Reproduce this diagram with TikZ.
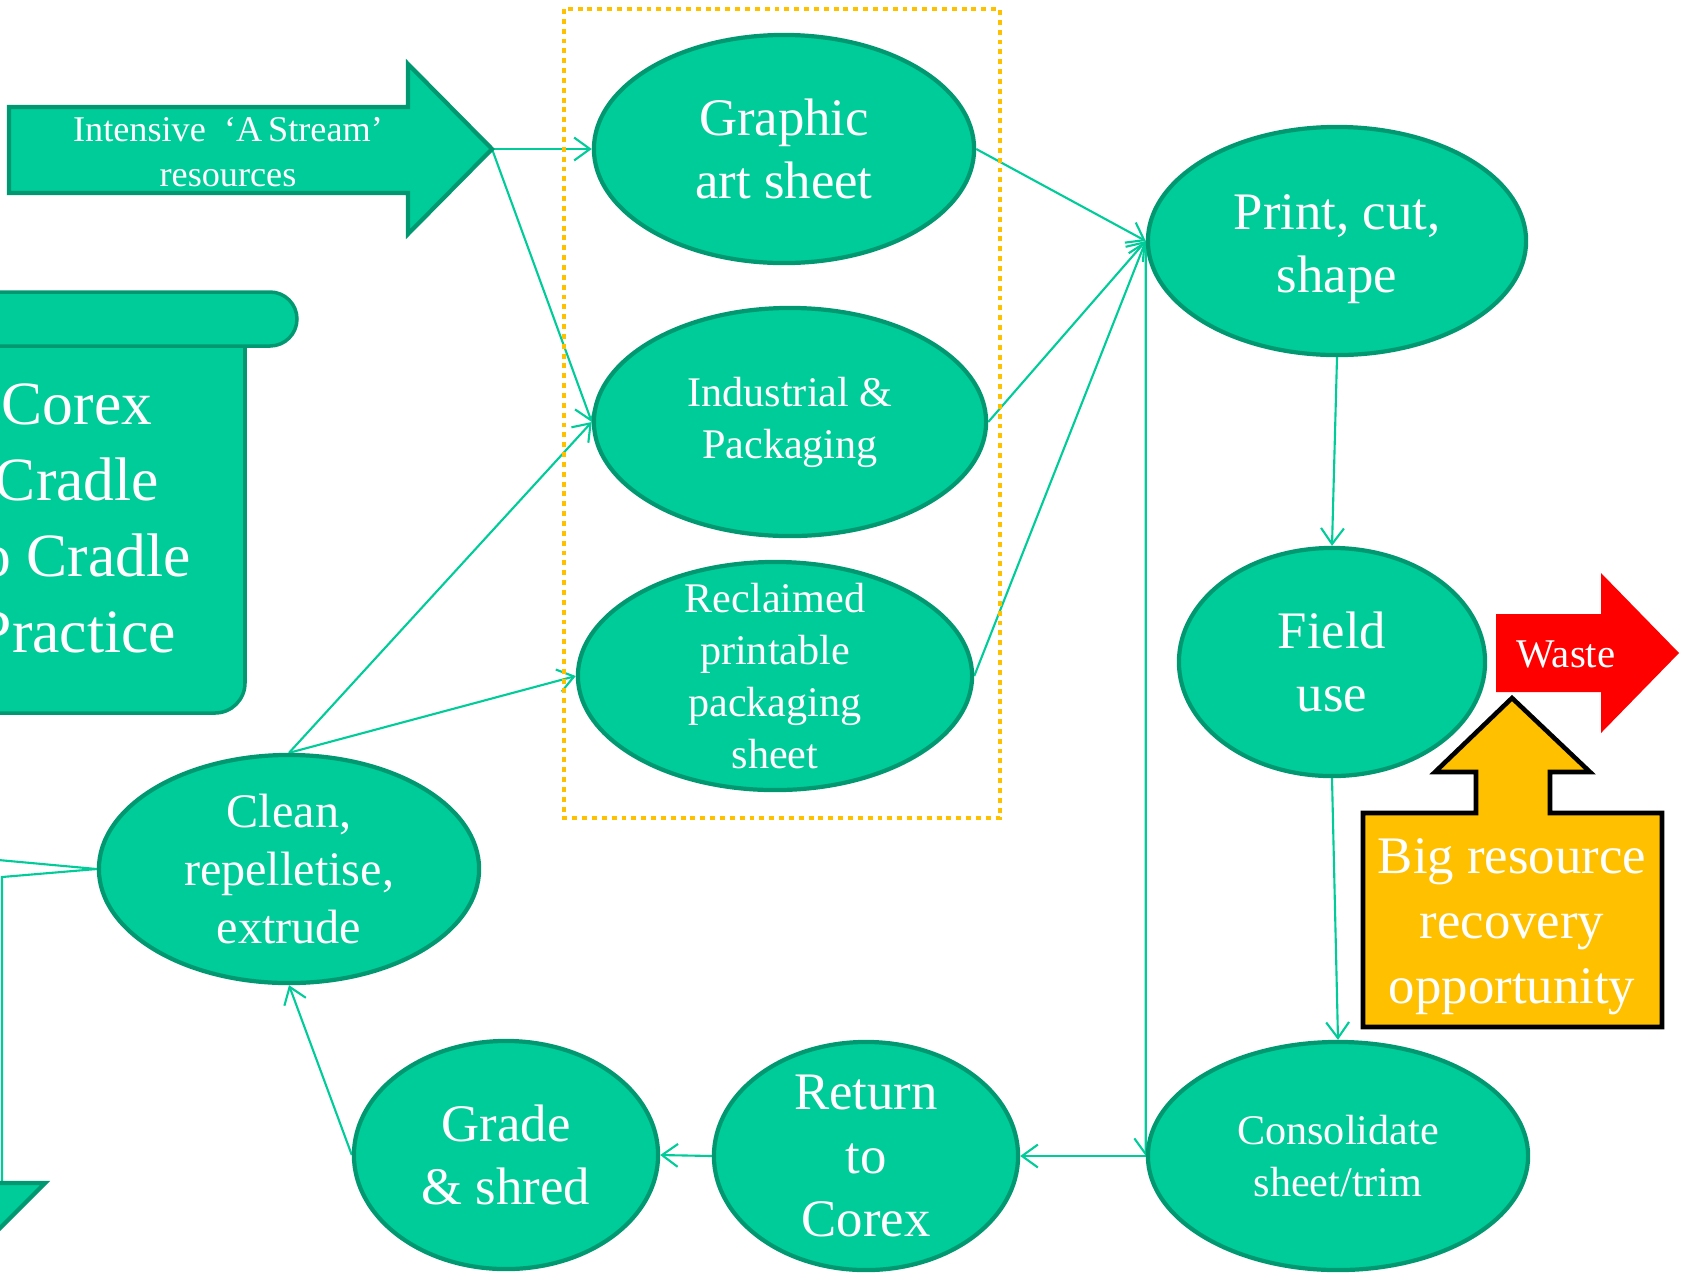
\documentclass[tikz,border=0pt]{standalone}
\usepackage{fontspec}
\setmainfont{Liberation Serif}
\usetikzlibrary{shapes,arrows.meta}
\pgfdeclarelayer{background}
\pgfsetlayers{background,main}
\definecolor{corexgreen}{HTML}{00CC99}
\definecolor{corexedge}{HTML}{009870}
\definecolor{amber}{HTML}{FFC000}
\tikzset{
stage/.style={ellipse, draw=corexedge, line width=1.2pt, fill=corexgreen, text=white, align=center, inner sep=0pt, minimum height=2.28cm, font=\fontsize{15}{18}\selectfont},
smallstage/.style={stage, font=\fontsize{12}{14.8}\selectfont},
flow/.style={draw=corexgreen, line width=0.6pt, -{Straight Barb[length=4.5pt,width=6.5pt]}},
link/.style={draw=corexgreen, line width=0.6pt},
}

\begin{document}
\begin{tikzpicture}[x=0.01cm, y=-0.01cm]
\useasboundingbox (0,0) rectangle (1685,1272);
\clip (0,0) rectangle (1685,1272);

\draw[draw=corexedge, fill=corexgreen, line width=1pt] (-80,346) -- (245,346) -- (245,600) [rounded corners=0.3cm] -- (245,713) -- (-80,713) -- cycle;
\draw[draw=corexedge, fill=corexgreen, line width=1pt, rounded corners=0.27cm] (-80,292) rectangle (297,346);
\node[text=white, align=center, font=\fontsize{17.5}{21.6}\selectfont] (title) at (77,518) {Corex\\Cradle\\to Cradle\\Practice};

\draw[amber, line width=1.3pt, dash pattern=on 1.4pt off 1.4pt] (564,9) rectangle (1000,818);

\draw[draw=corexedge, fill=corexgreen, line width=1.2pt] (9,107) -- (408,107) -- (408,64) -- (492,149) -- (408,234) -- (408,193) -- (9,193) -- cycle;
\coordinate (stream) at (492,149);
\node[text=white, align=center, font=\fontsize{10.3}{12.8}\selectfont] (streamtxt) at (228,152) {Intensive\enspace‘A\,Stream’\\resources};

\draw[draw=corexedge, fill=corexgreen, line width=1.2pt] (-120,1000) -- (-10,1000) -- (-10,1183) -- (45,1183) -- (-65,1293) -- (-175,1183) -- (-120,1183) -- cycle;

\node[stage, minimum width=3.8cm] (gas) at (784,149) {Graphic\\art sheet};
\node[smallstage, minimum width=3.92cm] (ind) at (790,422) {Industrial \&\\Packaging};
\node[smallstage, minimum width=3.94cm, inner ysep=-6pt] (rec) at (775,676) {Reclaimed\\printable\\packaging\\sheet};
\node[stage, minimum width=3.78cm] (pcs) at (1337,241) {};
\node[text=white, align=center, font=\fontsize{15}{18}\selectfont] (pcstxt) at ([yshift=-0.08cm]pcs.center) {Print, cut,\\shape};
\node[stage, minimum width=3.06cm] (fld) at (1332,662) {Field\\use};
\node[smallstage, minimum width=3.8cm] (con) at (1338,1156) {Consolidate\\sheet/trim};
\node[stage, minimum width=3.04cm, inner ysep=-4pt] (ret) at (866,1156) {Return\\to\\Corex};
\node[stage, minimum width=3.04cm] (grd) at (506,1155) {Grade\\\& shred};
\node[stage, minimum width=3.8cm, inner ysep=-2pt, font=\fontsize{13.7}{16.4}\selectfont] (cln) at (289,869) {Clean,\\repelletise,\\extrude};

\fill[red] (1496,614) -- (1601,614) -- (1601,573) -- (1679,653) -- (1601,733) -- (1601,692) -- (1496,692) -- cycle;
\node[text=white, font=\fontsize{11.6}{14}\selectfont] (waste) at (1566,654) {Waste};

\draw[fill=amber, line width=1.3pt] (1363,813) -- (1476,813) -- (1476,772) -- (1435,772) -- (1512,698) -- (1590,772) -- (1550,772) -- (1550,813) -- (1662,813) -- (1662,1027) -- (1363,1027) -- cycle;
\node[text=white, align=center, font=\fontsize{15}{18.5}\selectfont] (brro) at (1512,927) {Big resource\\recovery\\opportunity};

\coordinate (offleft) at (-100,851);
\coordinate (bend) at (2,877);
\coordinate (drop) at (2,1183);

\begin{pgfonlayer}{background}
\draw[flow] (stream) -- (gas.west);
\draw[flow] (stream) -- (ind.west);
\draw[flow] (gas.east) -- (pcs.west);
\draw[flow] (ind.east) -- (pcs.west);
\draw[flow] (rec.east) -- (pcs.west);
\draw[flow] (pcs.west) -- (con.west);
\draw[flow] (pcs.south) -- (fld.north);
\draw[flow] (fld.south) -- (con.north);
\draw[flow] (con.west) -- (ret.east);
\draw[flow] (ret.west) -- (grd.east);
\draw[flow] (grd.west) -- (cln.south);
\draw[flow] (cln.north) -- (ind.west);
\draw[flow] (cln.north) -- (rec.west);
\draw[link] (cln.west) -- (offleft);
\draw[link] (cln.west) -- (bend) -- (drop);
\end{pgfonlayer}
\end{tikzpicture}
\end{document}
